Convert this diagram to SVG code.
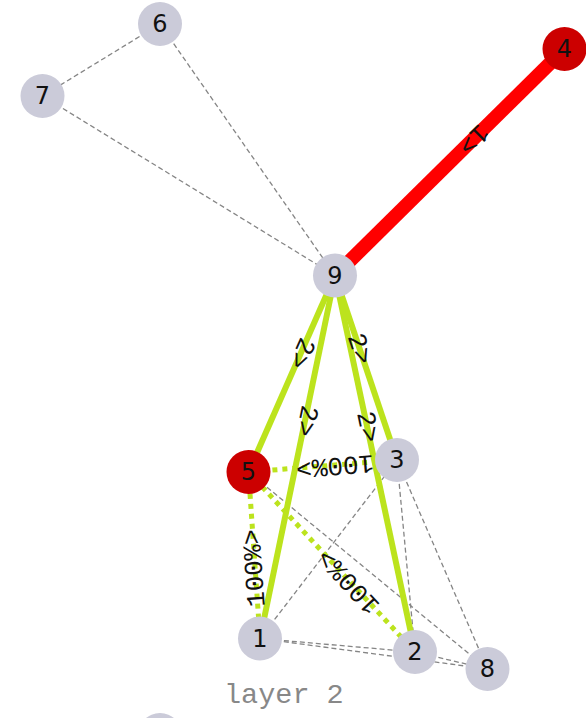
<svg xmlns="http://www.w3.org/2000/svg" width="586" height="718" viewBox="0 0 586 718">
<style>
.dash{stroke:#858585;stroke-width:1.3;stroke-dasharray:5,3;fill:none}
.green{stroke:#bce31d;stroke-width:6;fill:none}
.gdot{stroke:#bce31d;stroke-width:5;stroke-dasharray:5,5;fill:none}
.red{stroke:#ff0000;stroke-width:14;fill:none}
.node circle{fill:#cbcbd9}
.node.hot circle{fill:#cc0000}
.node text{font-family:"DejaVu Sans",sans-serif;font-size:24px;fill:#111;text-anchor:middle;dominant-baseline:central}
.lbl{font-family:"Liberation Mono",monospace;font-size:26px;fill:#111;text-anchor:middle;dominant-baseline:central}
.layer{font-family:"Liberation Mono",monospace;font-size:28.5px;fill:#888888}
</style>
<g id="connectors">
<line class="dash" x1="160" y1="24" x2="42.5" y2="96"/>
<line class="dash" x1="160" y1="24" x2="335" y2="275.5"/>
<line class="dash" x1="42.5" y1="96" x2="335" y2="275.5"/>
<line class="dash" x1="248.5" y1="472" x2="487.5" y2="669"/>
<line class="dash" x1="260" y1="638.5" x2="397" y2="460"/>
<line class="dash" x1="397" y1="460" x2="415" y2="652"/>
<line class="dash" x1="397" y1="460" x2="487.5" y2="669"/>
<line class="dash" x1="260" y1="638.5" x2="415" y2="652"/>
<line class="dash" x1="260" y1="638.5" x2="487.5" y2="669"/>
<line class="dash" x1="415" y1="652" x2="487.5" y2="669"/>
<line class="gdot" x1="397" y1="460" x2="248.5" y2="472"/>
<line class="gdot" x1="260" y1="638.5" x2="248.5" y2="472"/>
<line class="gdot" x1="415" y1="652" x2="248.5" y2="472"/>
<line class="green" x1="335" y1="275.5" x2="248.5" y2="472"/>
<line class="green" x1="335" y1="275.5" x2="260" y2="638.5"/>
<line class="green" x1="335" y1="275.5" x2="397" y2="460"/>
<line class="green" x1="335" y1="275.5" x2="415" y2="652"/>
<line class="red" x1="564.5" y1="49" x2="335" y2="275.5"/>
</g>
<g id="node6" class="node"><circle cx="160" cy="24" r="22"/><text x="160" y="24">6</text></g>
<g id="node7" class="node"><circle cx="42.5" cy="96" r="22"/><text x="42.5" y="96">7</text></g>
<g id="node4" class="node hot"><circle cx="564.5" cy="49" r="22"/><text x="564.5" y="49">4</text></g>
<g id="node9" class="node"><circle cx="335" cy="275.5" r="22"/><text x="335" y="275.5">9</text></g>
<g id="node5" class="node hot"><circle cx="248.5" cy="472" r="22"/><text x="248.5" y="472">5</text></g>
<g id="node3" class="node"><circle cx="397" cy="460" r="22"/><text x="397" y="460">3</text></g>
<g id="node1" class="node"><circle cx="260" cy="638.5" r="22"/><text x="260" y="638.5">1</text></g>
<g id="node2" class="node"><circle cx="415" cy="652" r="22"/><text x="415" y="652">2</text></g>
<g id="node8" class="node"><circle cx="487.5" cy="669" r="22"/><text x="487.5" y="669">8</text></g>
<g id="node0" class="node"><circle cx="160" cy="735" r="22"/></g>
<g id="labels">
<text class="lbl" transform="translate(473,139) rotate(135.4)">1&gt;</text>
<text class="lbl" transform="translate(301,353) rotate(113.8)">2&gt;</text>
<text class="lbl" transform="translate(306,421) rotate(101.7)">2&gt;</text>
<text class="lbl" transform="translate(359,349) rotate(71.4)">2&gt;</text>
<text class="lbl" transform="translate(367,427) rotate(78)">2&gt;</text>
<text class="lbl" transform="translate(335,465) rotate(175.4)">100%&gt;</text>
<text class="lbl" transform="translate(255,568) rotate(-94)">100%&gt;</text>
<text class="lbl" transform="translate(349,581) rotate(-132.8)">100%&gt;</text>
<text class="layer" x="224" y="703">layer 2</text>
</g>
</svg>
